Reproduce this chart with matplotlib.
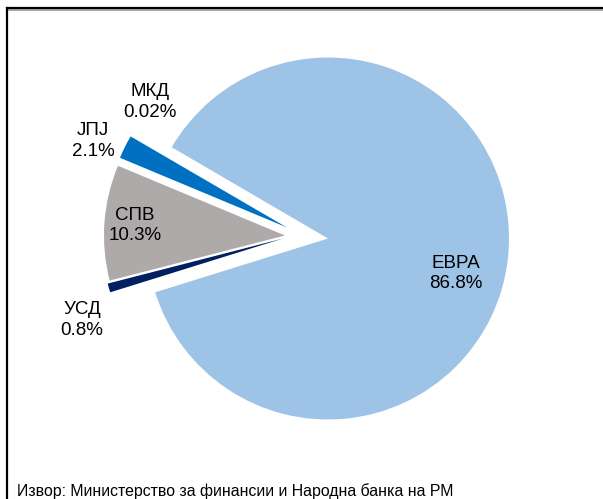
import matplotlib
matplotlib.use("Agg")
import matplotlib.pyplot as plt
from matplotlib.lines import Line2D

# ---- data ----
categories = ["ЕВРА", "МКД", "ЈПЈ", "СПВ", "УСД"]
values = [86.8, 0.02, 2.1, 10.3, 0.8]
value_labels = ["86.8%", "0.02%", "2.1%", "10.3%", "0.8%"]
colors = ["#9DC3E6", "#BDD7EE", "#0070C0", "#AEAAAA", "#002060"]
source = "Извор: Министерство за финансии и Народна банка на РМ"

W, H = 603, 499
fig = plt.figure(figsize=(W / 100, H / 100), dpi=100)
ax = fig.add_axes([0, 0, 1, 1])

cx, cy, r = 328, H - 238.5, 181
# pixel offsets of the exploded slices (dx, dy with y up)
offsets = [(0, 0), (-41, 11), (-41, 11), (-43, 3), (-45, 0)]

wedges, _ = ax.pie(values, colors=colors, startangle=197.3, counterclock=True,
                   center=(cx, cy), radius=r,
                   wedgeprops=dict(linewidth=0), frame=False)
for w, (dx, dy) in zip(wedges, offsets):
    w.set_center((cx + dx, cy + dy))
ax.set_xlim(0, W)
ax.set_ylim(0, H)
ax.set_aspect("equal")
ax.axis("off")

# label positions (pixel, from top)
label_pos = {"ЕВРА": (456, 273.5), "МКД": (150, 101.7), "ЈПЈ": (93, 141),
             "СПВ": (135, 225.5), "УСД": (82, 320)}
for cat, lab in zip(categories, value_labels):
    x, y = label_pos[cat]
    ax.text(x, H - y, f"{cat}\n{lab}", ha="center", va="center",
            fontsize=13.5, family=["Liberation Sans", "DejaVu Sans"],
            linespacing=1.3, color="#000000")

fig.text(17 / W, 1 - 496 / H, source, ha="left", va="baseline",
         fontsize=11.4, family=["Liberation Sans Narrow", "Liberation Sans", "DejaVu Sans"],
         color="#000000")

# frame lines (top and left)
fig.add_artist(Line2D([7 / W, 1], [1 - 9.5 / H, 1 - 9.5 / H], color="#999999", lw=1.2,
                      transform=fig.transFigure))
fig.add_artist(Line2D([7 / W, 1], [1 - 8 / H, 1 - 8 / H], color="#000000", lw=1.6,
                      transform=fig.transFigure))
fig.add_artist(Line2D([7 / W, 7 / W], [0, 1 - 8 / H], color="#000000", lw=1.6,
                      transform=fig.transFigure))

fig.savefig("out.png", dpi=100)
